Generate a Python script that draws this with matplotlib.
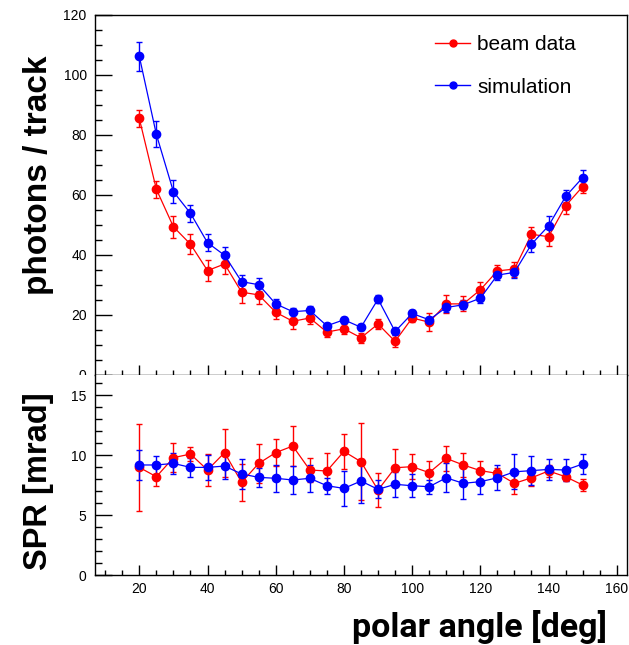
import matplotlib.pyplot as plt
from matplotlib.ticker import MultipleLocator
from matplotlib.patches import Rectangle
from matplotlib.lines import Line2D

plt.rcParams["font.family"] = ["Liberation Sans", "DejaVu Sans"]

# polar angle bins
angle = [20, 25, 30, 35, 40, 45, 50, 55, 60, 65, 70, 75, 80, 85,
         90, 95, 100, 105, 110, 115, 120, 125, 130, 135, 140, 145, 150]

# photons / track
ph_data = [85.4, 61.8, 49.3, 43.5, 34.7, 36.9, 27.5, 26.6, 20.8, 17.8, 18.9, 14.2, 15.3, 12.3,
           16.9, 11.1, 18.9, 17.5, 23.6, 23.6, 28.3, 34.6, 35.2, 46.8, 46.0, 56.3, 62.7]
ph_data_err = [2.7, 2.8, 3.7, 3.3, 3.4, 3.5, 3.5, 3.1, 2.2, 2.5, 2.0, 1.8, 1.6, 1.6,
               1.7, 2.0, 1.5, 3.0, 3.0, 2.5, 2.6, 2.0, 2.5, 2.5, 3.0, 2.6, 2.2]
ph_sim = [106.1, 80.1, 61.0, 53.8, 44.0, 39.8, 31.0, 30.0, 23.6, 21.0, 21.4, 16.3, 18.3, 15.8,
          25.2, 14.4, 20.4, 18.3, 22.4, 23.3, 25.5, 33.2, 34.1, 43.5, 49.6, 59.4, 65.7]
ph_sim_err = [4.8, 4.3, 3.9, 2.9, 2.8, 2.9, 2.3, 2.1, 1.5, 1.2, 1.5, 1.0, 1.0, 1.0,
              1.2, 1.2, 1.2, 1.0, 1.5, 1.5, 1.5, 1.5, 2.0, 2.5, 3.3, 2.0, 2.6]

# SPR [mrad]
spr_data = [8.97, 8.19, 9.78, 10.08, 8.75, 10.2, 7.72, 9.3, 10.2, 10.75, 8.75, 8.67, 10.3, 9.44,
            7.08, 8.94, 9.03, 8.53, 9.72, 9.17, 8.7, 8.47, 7.64, 8.1, 8.67, 8.19, 7.5]
spr_data_err = [3.6, 0.8, 1.2, 0.55, 1.3, 2.0, 1.55, 1.6, 1.1, 1.7, 1.0, 1.5, 1.45, 3.2,
                1.45, 1.6, 1.05, 1.0, 1.05, 1.0, 0.8, 0.45, 0.9, 0.7, 0.5, 0.35, 0.5]
spr_sim = [9.17, 9.17, 9.3, 8.97, 8.97, 9.08, 8.42, 8.14, 8.06, 7.92, 8.06, 7.44, 7.22, 7.83,
           7.14, 7.56, 7.44, 7.36, 8.1, 7.64, 7.78, 8.1, 8.6, 8.7, 8.8, 8.75, 9.25]
spr_sim_err = [1.25, 0.75, 0.9, 0.8, 1.05, 1.05, 1.25, 0.8, 1.15, 1.2, 1.15, 0.65, 1.45, 1.8,
               0.75, 1.05, 0.95, 0.6, 1.2, 1.3, 1.0, 1.05, 1.45, 1.2, 0.9, 0.9, 0.85]

red = "#ff0000"
blue = "#0000ff"

fig = plt.figure(figsize=(6.29, 6.45), dpi=100)
ax1 = fig.add_axes([0.151, 0.4191, 0.8458, 0.5581])
ax2 = fig.add_axes([0.151, 0.1085, 0.8458, 0.3105], zorder=2)

style = dict(fmt="-o", markersize=6, linewidth=0.9, elinewidth=1.0, capsize=2, capthick=1.0)

ax1.errorbar(angle, ph_data, yerr=ph_data_err, color=red, **style)
ax1.errorbar(angle, ph_sim, yerr=ph_sim_err, color=blue, **style)
ax2.errorbar(angle, spr_data, yerr=spr_data_err, color=red, **style)
ax2.errorbar(angle, spr_sim, yerr=spr_sim_err, color=blue, **style)

for ax in (ax1, ax2):
    ax.set_xlim(7, 163)
    ax.xaxis.set_major_locator(MultipleLocator(20))
    ax.xaxis.set_minor_locator(MultipleLocator(5))
    ax.tick_params(which="both", direction="in", top=False, right=False, width=1.0, labelsize=10)
    ax.tick_params(axis="y", which="major", length=12, pad=6)
    ax.tick_params(axis="y", which="minor", length=5)
    ax.tick_params(axis="x", which="major", length=7, pad=5)
    ax.tick_params(axis="x", which="minor", length=3.5)
    for sp in ax.spines.values():
        sp.set_linewidth(1.0)

ax1.set_ylim(0, 120)
ax1.yaxis.set_major_locator(MultipleLocator(20))
ax1.yaxis.set_minor_locator(MultipleLocator(5))
ax1.tick_params(axis="x", labelbottom=False)

ax2.set_ylim(0, 16.69)
ax2.yaxis.set_major_locator(MultipleLocator(5))
ax2.yaxis.set_minor_locator(MultipleLocator(1))
ax2.spines["top"].set_visible(False)

# lower pad covers the bottom half of the top panel's "0"
fig.patches.append(Rectangle((0, 0), 0.149, 0.4191, transform=fig.transFigure,
                             facecolor="white", edgecolor="none", zorder=1))

handles = [Line2D([], [], color=red, marker="o", markersize=5, linewidth=1.0),
           Line2D([], [], color=blue, marker="o", markersize=5, linewidth=1.0)]
ax1.legend(handles, ["beam data", "simulation"], loc="upper left",
           bbox_to_anchor=(0.6916, 0.946), bbox_transform=fig.transFigure,
           frameon=False, fontsize=15, labelspacing=1.15, borderpad=0, borderaxespad=0,
           handlelength=1.68, handletextpad=0.34)

fig.text(0.061, 0.729, "photons / track", rotation=90, ha="center", va="center",
         fontsize=24, fontweight="bold")
fig.text(0.061, 0.254, "SPR [mrad]", rotation=90, ha="center", va="center",
         fontsize=23.5, fontweight="bold")
fig.text(0.965, 0.0124, "polar angle [deg]", ha="right", va="baseline",
         fontsize=24.5, fontweight="bold", family="Roboto")

fig.savefig("out.png", dpi=100)
